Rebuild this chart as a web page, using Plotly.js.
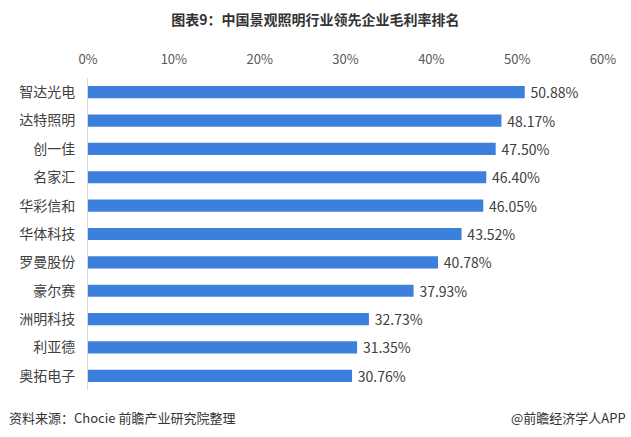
<!DOCTYPE html>
<html>
<head>
<meta charset="utf-8">
<script src="https://cdn.plot.ly/plotly-3.0.1.min.js"></script>
<style>html,body{margin:0;padding:0;background:#fff;}#chart{width:631px;height:437px;}</style>
</head>
<body>
<div id="chart"></div>
<script>
const companies = ["智达光电","达特照明","创一佳","名家汇","华彩信和","华体科技","罗曼股份","豪尔赛","洲明科技","利亚德","奥拓电子"];
const margins = [50.88,48.17,47.50,46.40,46.05,43.52,40.78,37.93,32.73,31.35,30.76];
const tickVals = [0,10,20,30,40,50,60];
const tickText = ["0%","10%","20%","30%","40%","50%","60%"];

const FONT = '"Noto Sans CJK SC","Noto Sans",sans-serif';

const trace = {
  type: 'bar',
  orientation: 'h',
  y: companies,
  x: margins,
  marker: {color: '#3C7FDC'},
  text: margins.map(v => '\u2009' + v.toFixed(2) + '%'),
  textposition: 'outside',
  constraintext: 'none',
  cliponaxis: false,
  textfont: {family: FONT, size: 14, color: '#404040'},
  hoverinfo: 'none'
};

const layout = {
  width: 631, height: 437,
  margin: {l: 88, r: 28, t: 78, b: 47},
  paper_bgcolor: '#fff', plot_bgcolor: '#fff',
  bargap: 0.57,
  showlegend: false,
  title: {
    text: '<b>图表9：中国景观照明行业领先企业毛利率排名</b>',
    font: {family: FONT, size: 14, color: '#333'},
    x: 0.5, xanchor: 'center', y: 0.955, yanchor: 'middle'
  },
  xaxis: {
    side: 'top', range: [0, 60],
    tickvals: tickVals, ticktext: tickText,
    showgrid: false, zeroline: false, showline: false,
    ticks: '', ticklen: 0,
    ticklabelstandoff: 10,
    tickfont: {family: FONT, size: 13, color: '#595959'},
    fixedrange: true
  },
  yaxis: {
    autorange: 'reversed',
    showline: true, linecolor: '#D9D9D9', linewidth: 1,
    showgrid: false, zeroline: false, ticks: '',
    ticklabelstandoff: 9,
    tickfont: {family: FONT, size: 14, color: '#404040'},
    fixedrange: true
  },
  annotations: [
    {text: '资料来源：Chocie 前瞻产业研究院整理', xref: 'paper', yref: 'paper',
     x: -0.158, y: -0.087, xanchor: 'left', yanchor: 'middle', showarrow: false,
     font: {family: FONT, size: 13, color: '#333'}},
    {text: '@前瞻经济学人APP', xref: 'paper', yref: 'paper',
     x: 1.049, y: -0.087, xanchor: 'right', yanchor: 'middle', showarrow: false,
     font: {family: FONT, size: 13, color: '#333'}}
  ]
};

Plotly.newPlot('chart', [trace], layout, {displayModeBar: false, staticPlot: true});
</script>
</body>
</html>
